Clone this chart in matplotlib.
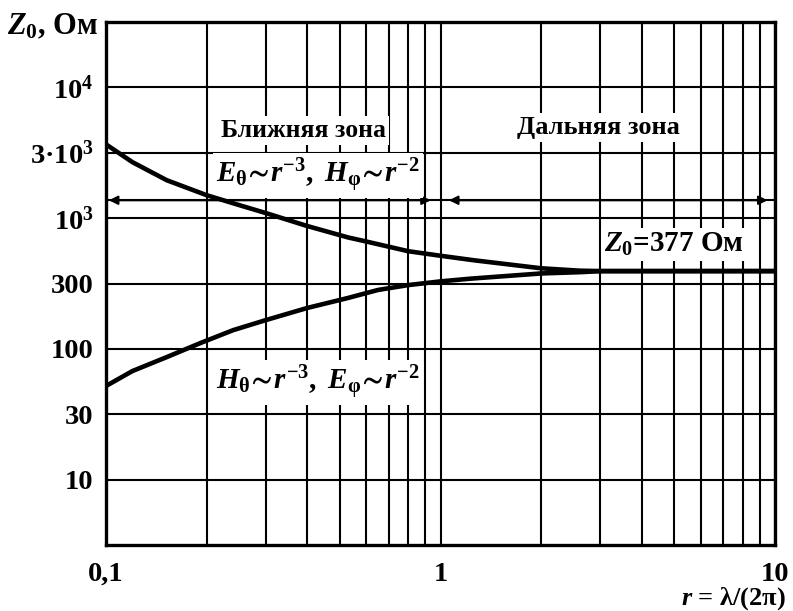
import numpy as np
import matplotlib
matplotlib.use("Agg")
import matplotlib.pyplot as plt

plt.rcParams["font.family"] = ["Liberation Serif", "DejaVu Serif"]
plt.rcParams["font.weight"] = "bold"
plt.rcParams["mathtext.fontset"] = "custom"
plt.rcParams["mathtext.rm"] = "Liberation Serif:bold"
plt.rcParams["mathtext.bf"] = "Liberation Serif:bold"
plt.rcParams["mathtext.it"] = "Liberation Serif:italic:bold"
plt.rcParams["mathtext.fallback"] = "stix"

# Wave impedance vs distance r (in units of lambda / 2pi)
r_upper = [0.1, 0.12, 0.152, 0.2, 0.25, 0.3, 0.4, 0.53, 0.6, 0.8, 1.0, 1.26, 2.0, 2.6, 3.0, 10]
z_upper = [3500, 2560, 1890, 1470, 1245, 1090, 864, 700, 650, 544, 500, 460, 397, 380, 377, 377]

r_lower = [0.1, 0.12, 0.152, 0.191, 0.24, 0.3, 0.4, 0.528, 0.65, 0.8, 1.0, 1.23, 2.0, 2.64, 3.0, 10]
z_lower = [50.5, 66.5, 86, 110, 137, 162, 199, 235, 269, 292, 312, 328, 361, 370, 377, 377]

z_free = 377
zone_level = 1350

y_ticks = [10, 30, 100, 300, 1000, 3000, 10000]
y_tick_labels = ["10", "30", "100", "300", "$10^3$", "3·$10^3$", "$10^4$"]
x_ticks = [0.1, 1, 10]
x_tick_labels = ["0,1", "1", "10"]

# The value axis places 10, 30, 100, 300 ... at equal steps
knots = np.array([y_ticks[0] / 10 * 3] + y_ticks + [y_ticks[-1] * 3], dtype=float)
log_knots = np.log10(knots)
steps = np.arange(len(knots), dtype=float)


def fwd(v):
    v = np.asarray(v, dtype=float)
    return np.interp(np.log10(np.maximum(v, 1e-12)), log_knots, steps)


def inv(u):
    u = np.asarray(u, dtype=float)
    return 10 ** np.interp(u, steps, log_knots)


fig = plt.figure(figsize=(7.93, 6.11), dpi=100)
ax = fig.add_axes([106 / 793, 1 - 545 / 611, (775 - 106) / 793, (545 - 22) / 611])
ax.set_xscale("log")
ax.set_yscale("function", functions=(fwd, inv))
ax.set_xlim(0.1, 10)
ax.set_ylim(knots[0], knots[-1])

# grid
minor_x = [k * 10.0 ** e for e in (-1, 0) for k in range(2, 10)]
for xv in minor_x + x_ticks:
    ax.axvline(xv, color="black", lw=1.5, zorder=1)
for yv in y_ticks:
    ax.axhline(yv, color="black", lw=1.5, zorder=1)

ax.set_xticks(x_ticks)
ax.set_xticklabels(x_tick_labels)
ax.set_xticks([], minor=True)
ax.set_yticks(y_ticks)
ax.set_yticklabels(y_tick_labels)
ax.set_yticks([], minor=True)
ax.tick_params(length=0, labelsize=20.5, pad=9)
ax.tick_params(axis="x", pad=12)
for lab in ax.get_xticklabels() + ax.get_yticklabels():
    lab.set_fontweight("bold")
for sp in ax.spines.values():
    sp.set_linewidth(2.4)
    sp.set_zorder(5)

# zone arrows
ax.plot([0.1, 10], [zone_level, zone_level], color="black", lw=1.5, zorder=2)
arrow_kw = dict(arrowstyle="<|-|>", color="black", lw=1.5, mutation_scale=13,
                shrinkA=0, shrinkB=0)
ax.annotate("", xy=(0.102, zone_level), xytext=(0.935, zone_level),
            arrowprops=arrow_kw, zorder=3)
ax.annotate("", xy=(1.06, zone_level), xytext=(9.5, zone_level),
            arrowprops=arrow_kw, zorder=3)

# impedance curves
ax.plot(r_upper, z_upper, color="black", lw=3.3, solid_capstyle="round",
        solid_joinstyle="round", zorder=4)
ax.plot(r_lower, z_lower, color="black", lw=3.3, solid_capstyle="round",
        solid_joinstyle="round", zorder=4)

box = dict(facecolor="white", edgecolor="none", pad=2)
ax.text(0.39, 4540, "Ближняя зона", ha="center", va="center", fontsize=18.5,
        fontweight="bold", bbox=box, zorder=3)
ax.text(2.97, 4800, "Дальняя зона", ha="center", va="center", fontsize=19,
        fontweight="bold", bbox=box, zorder=3)
ax.text(0.43, 2050,
        r"$E_{\mathrm{θ}}\!\sim\! r^{-3},\ H_{\mathrm{φ}}\!\sim\! r^{-2}$",
        ha="center", va="center", fontsize=21, bbox=box, zorder=3)
ax.text(0.43, 54,
        r"$H_{\mathrm{θ}}\!\sim\! r^{-3},\ E_{\mathrm{φ}}\!\sim\! r^{-2}$",
        ha="center", va="center", fontsize=21, bbox=box, zorder=3)
ax.text(4.98, 620, r"$Z_0$=377 Ом", ha="center", va="center", fontsize=21,
        fontweight="bold", bbox=box, zorder=3)

fig.text(98 / 793, 1 - 27 / 611, r"$Z_0$, Ом", ha="right", va="center",
         fontsize=22, fontweight="bold")
fig.text(786 / 793, 1 - 599 / 611, r"$r$ = λ/(2π)", ha="right",
         va="center", fontsize=19, fontweight="bold")

fig.savefig("out.png", dpi=100)
